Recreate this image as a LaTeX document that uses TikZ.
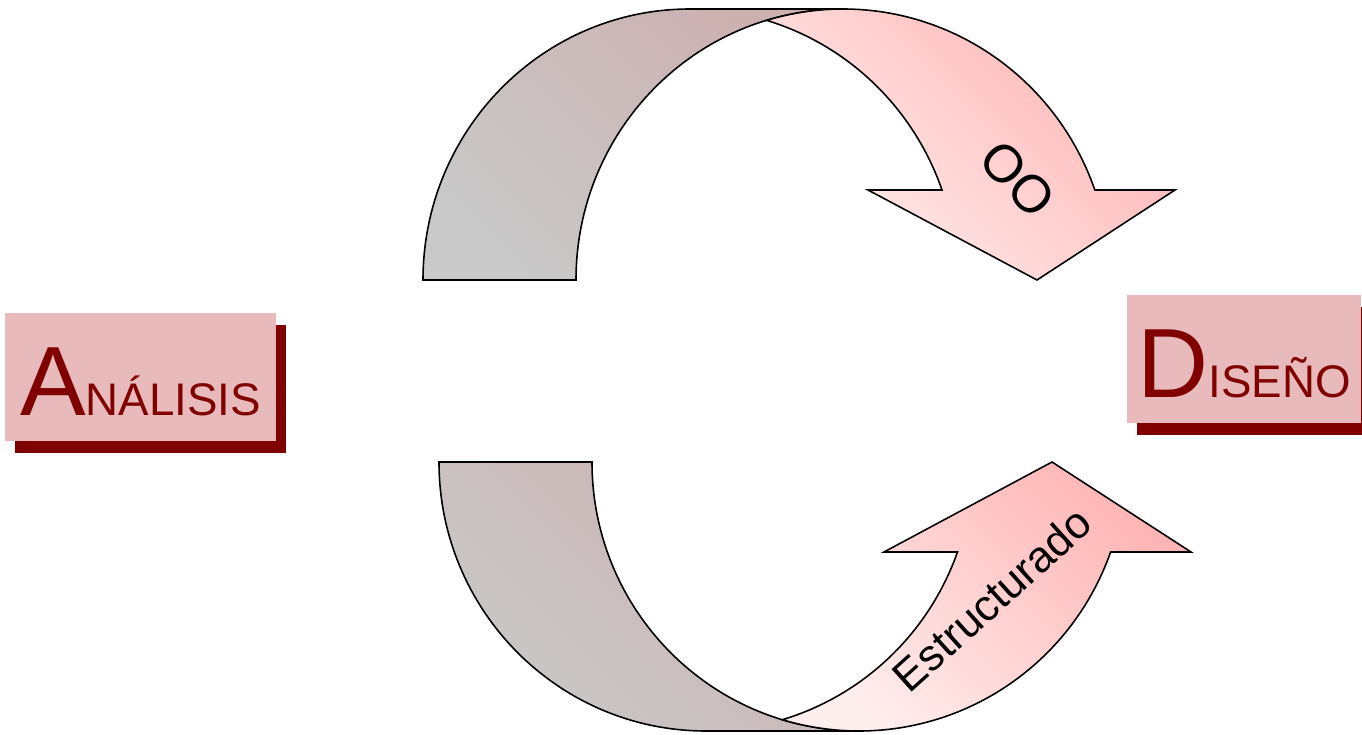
\documentclass[tikz,border=0pt]{standalone}
\usepackage{fontspec}
\setmainfont{Liberation Sans}
\usetikzlibrary{positioning,shadows}
\definecolor{titlered}{RGB}{128,0,0}
\definecolor{boxpink}{RGB}{232,186,188}
\definecolor{bandgray}{RGB}{201,201,201}
\definecolor{bandrose}{RGB}{205,176,176}
\definecolor{arrowpink}{RGB}{255,180,180}
\definecolor{arrowlight}{RGB}{255,238,238}
\tikzset{
  titlebox/.style={fill=boxpink, minimum height=2.56cm, text height=44pt, text depth=0pt, inner sep=0pt, text=titlered,
    drop shadow={shadow xshift=0.2cm, shadow yshift=-0.23cm, fill=titlered, opacity=1}},
  backband/.style={draw=black, line width=0.9pt, top color=bandrose, bottom color=bandgray, shading angle=-45},
  frontband/.style={draw=black, line width=0.9pt, top color=arrowpink, bottom color=arrowlight, shading angle=-45},
  bandlabel/.style={font=\fontsize{25}{25}\selectfont, inner sep=0pt}
}
\newcommand{\titleword}[2]{{\fontsize{56}{56}\selectfont #1}{\fontsize{26}{26}\selectfont #2}}

\begin{document}
\begin{tikzpicture}
  \useasboundingbox (0,0) rectangle (27.24,14.68);
  % upper arrow (OO)
  \draw[backband] (8.46,9.08) arc[start angle=180, end angle=90, x radius=5.34, y radius=5.42]
    -- (16.86,14.5) arc[start angle=90, end angle=180, x radius=5.34, y radius=5.42] -- cycle;
  \draw[frontband] (16.86,14.5) arc[start angle=90, end angle=19.4, x radius=5.34, y radius=5.42]
    -- (23.5,10.88) -- (20.74,9.08) -- (17.36,10.88) -- (18.84,10.88)
    arc[start angle=19.4, end angle=73.35, x radius=5.34, y radius=5.42]
    arc[start angle=106.65, end angle=90, x radius=5.34, y radius=5.42] -- cycle;
  % lower arrow (Estructurado)
  \draw[backband] (8.78,5.44) arc[start angle=180, end angle=270, x radius=5.34, y radius=5.38]
    -- (17.18,0.06) arc[start angle=270, end angle=180, x radius=5.34, y radius=5.38] -- cycle;
  \draw[frontband] (17.18,0.06) arc[start angle=270, end angle=340.45, x radius=5.34, y radius=5.38]
    -- (23.82,3.64) -- (21.04,5.44) -- (17.68,3.64) -- (19.15,3.64)
    arc[start angle=340.45, end angle=286.65, x radius=5.34, y radius=5.38]
    arc[start angle=253.35, end angle=270, x radius=5.34, y radius=5.38] -- cycle;

  \node[bandlabel, font=\fontsize{30}{30}\selectfont, rotate=-47] (oo) at (20.35,11.09) {OO};
  \node[bandlabel, rotate=42] (estructurado) at (19.84,2.7) {Estructurado};

  \node[titlebox, minimum width=5.42cm] (analisis) at (2.81,7.14) {\titleword{A}{NÁLISIS}};
  \node[titlebox, minimum width=4.68cm] (diseno) at (24.88,7.5) {\titleword{D}{ISEÑO}};
\end{tikzpicture}
\end{document}
